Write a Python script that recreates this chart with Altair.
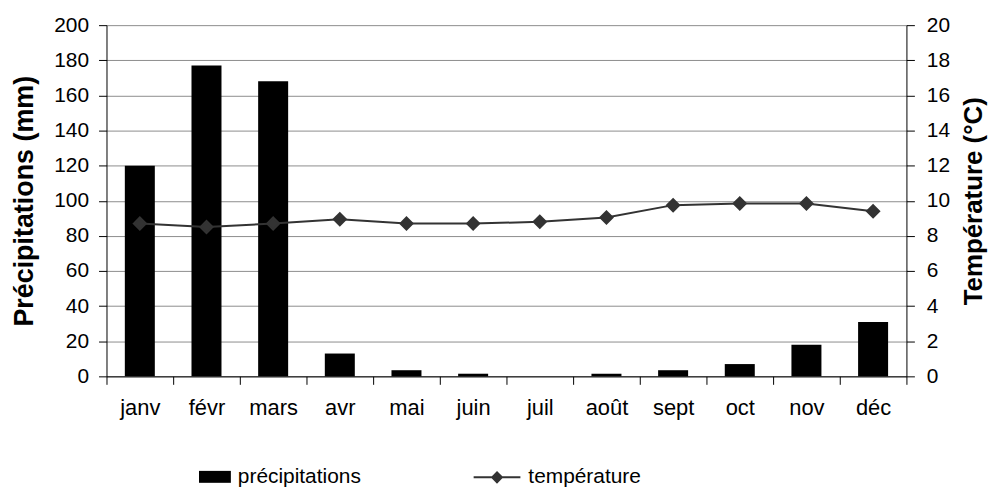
import altair as alt
import pandas as pd

months = ["janv", "févr", "mars", "avr", "mai", "juin", "juil", "août", "sept", "oct", "nov", "déc"]
precip = [120, 177, 168, 13, 3.5, 1.5, 0, 1.5, 3.5, 7, 18, 31]
temp = [8.7, 8.5, 8.7, 8.95, 8.7, 8.7, 8.8, 9.05, 9.75, 9.85, 9.85, 9.4]

df = pd.DataFrame({
    "mois": months,
    "precip": precip,
    "temp": temp,
    "s1": ["précipitations"] * 12,
    "s2": ["température"] * 12,
})

FONT = "Liberation Sans"
W, H = 804, 353

x = alt.X(
    "mois:N",
    sort=months,
    scale=alt.Scale(paddingInner=0, paddingOuter=0),
    axis=alt.Axis(
        title=None, labelAngle=0, tickBand="extent", domainColor="black",
        tickColor="black", tickSize=8, labelFontSize=22, labelColor="black",
        labelPadding=13, grid=False, labelFont=FONT,
    ),
)

bars = alt.Chart(df).mark_bar(width=alt.RelativeBandSize(0.45), color="black").encode(
    x=x,
    y=alt.Y(
        "precip:Q",
        scale=alt.Scale(domain=[0, 200], nice=False),
        axis=alt.Axis(
            title="Précipitations (mm)", values=list(range(0, 201, 20)),
            grid=True, gridColor="#8c8c8c", gridWidth=1, domainColor="black",
            tickColor="black", tickSize=8, labelFontSize=21, labelColor="black",
            labelFont=FONT, titleFont=FONT, titleFontSize=27, titleFontWeight="bold",
            titleColor="black", titleAngle=270, titleX=-82, titleY=H / 2,
            titleAlign="center", titleBaseline="middle", labelPadding=10,
        ),
    ),
    fill=alt.Fill(
        "s1:N",
        scale=alt.Scale(domain=["précipitations"], range=["black"]),
        legend=alt.Legend(
            title=None, orient="none", legendX=93, legendY=438, padding=0,
            symbolType="M-1,-0.375H1V0.375H-1Z", symbolSize=1024,
            symbolStrokeWidth=0, labelFontSize=21, labelFont=FONT,
            labelColor="black", labelOffset=7,
        ),
    ),
)

line = alt.Chart(df).mark_line(
    color="#333333", strokeWidth=2,
    point=alt.OverlayMarkDef(shape="diamond", size=150, filled=True, color="#333333"),
).encode(
    x=x,
    y=alt.Y(
        "temp:Q",
        scale=alt.Scale(domain=[0, 20], nice=False),
        axis=alt.Axis(
            title="Température (°C)", orient="right", values=list(range(0, 21, 2)),
            grid=False, domainColor="black", tickColor="black", tickSize=8,
            labelFontSize=21, labelColor="black", labelFont=FONT, titleFont=FONT,
            titleFontSize=26, titleFontWeight="bold", titleColor="black",
            titleAngle=270, titleX=67, titleY=H / 2, titleAlign="center",
            titleBaseline="middle", labelPadding=12,
        ),
    ),
    stroke=alt.Stroke(
        "s2:N",
        scale=alt.Scale(domain=["température"], range=["#333333"]),
        legend=alt.Legend(
            title=None, orient="none", legendX=368, legendY=430, padding=0,
            symbolType="M-1,0H1M-0.21,0L0,-0.21L0.21,0L0,0.21Z", symbolSize=2209,
            symbolStrokeWidth=2, symbolFillColor="#333333",
            labelFontSize=21, labelFont=FONT, labelColor="black", labelOffset=7,
        ),
    ),
)

chart = alt.layer(bars, line).resolve_scale(y="independent").properties(
    width=W,
    height=H,
    autosize=alt.AutoSizeParams(type="none"),
    padding={"left": 99, "top": 16, "right": 84, "bottom": 116},
).configure_view(strokeWidth=0)

chart.save("out.html", embed_options={"renderer": "svg", "actions": False})
